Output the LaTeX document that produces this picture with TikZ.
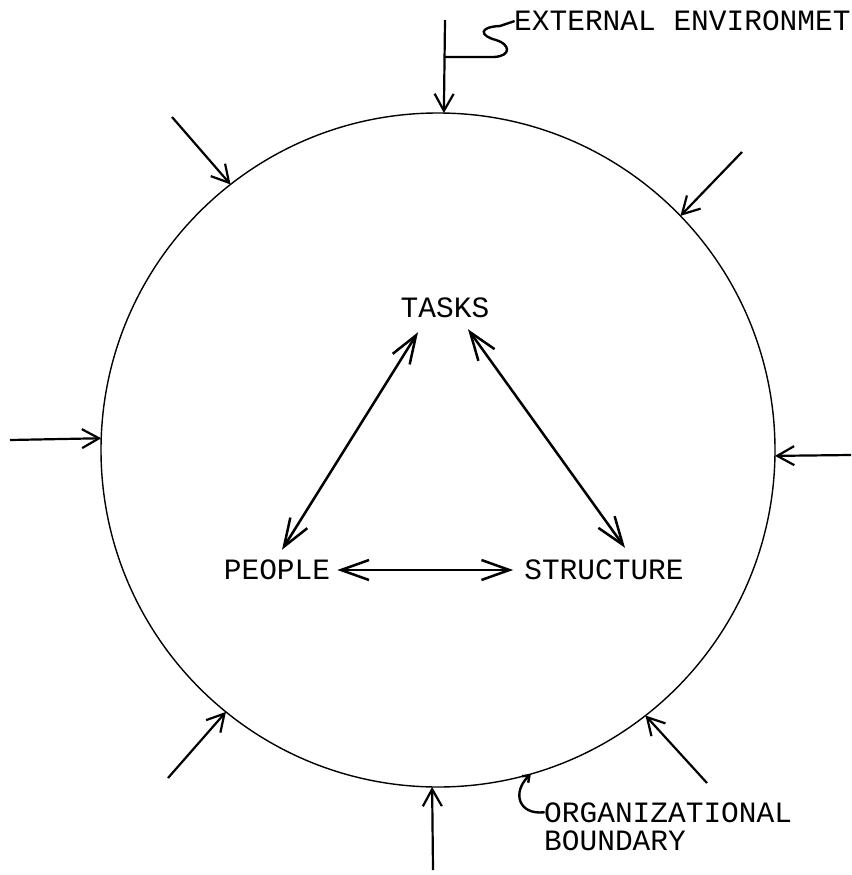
\documentclass[tikz,border=0pt]{standalone}
\usepackage{fontspec}
\setmonofont{Liberation Mono}
\usetikzlibrary{arrows.meta,positioning}

\begin{document}
\begin{tikzpicture}[
    x=1pt, y=-1pt,
    word/.style={font=\ttfamily\fontsize{29.5}{28}\selectfont, inner sep=0pt},
    boundary/.style={draw, circle, minimum size=674pt, inner sep=0pt, outer sep=0pt, line width=1.4pt},
    force/.style={-{Straight Barb[length=17pt, width=19pt]}, line width=2.2pt},
    mutual/.style={{Straight Barb[length=28pt, width=20pt]}-{Straight Barb[length=28pt, width=20pt]}, line width=2.5pt},
    hook/.style={line width=2.4pt, line cap=round}
]
\useasboundingbox (0,0) rectangle (851,875);
\node[boundary] (org) at (438,450) {};
\node[word] (tasks) at (445,308) {TASKS};
\node[word] (people) at (277,570) {PEOPLE};
\node[word] (structure) at (604,570) {STRUCTURE};
\node[word, anchor=base west] (env) at (514,31) {EXTERNAL ENVIRONMET};
\node[word, anchor=base west] (orgname) at (544,822) {ORGANIZATIONAL};
\node[word, anchor=base west] (orgbound) at (544,850) {BOUNDARY};
% forces from the environment
\coordinate (fN) at (445,20);
\coordinate (fNW) at (172,117);
\coordinate (fNE) at (742,152);
\coordinate (fW) at (10,440);
\coordinate (fE) at (851,455);
\coordinate (fSW) at (168,778);
\coordinate (fSE) at (707,783);
\coordinate (fS) at (433,870);
\draw[force] (fN) -- (org.89);
\draw[force] (fNW) -- (org.128);
\draw[force] (fNE) -- (org.44);
\draw[force] (fW) -- (org.178);
\draw[force] (fE) -- (org.359);
\draw[force] (fSW) -- (org.231);
\draw[force] (fSE) -- (org.308);
\draw[force] (fS) -- (org.269);
% the triangle
\draw[mutual] ([xshift=-27pt,yshift=-14pt]tasks.south) -- ([xshift=5pt,yshift=10pt]people.north);
\draw[mutual] ([xshift=23pt,yshift=-11pt]tasks.south) -- ([xshift=21pt,yshift=12pt]structure.north);
\draw[mutual] ([xshift=7pt]people.east) -- ([xshift=-11pt]structure.west);
% label hooks
\coordinate (envjoin) at (445,57);
\draw[hook] (envjoin) -- (494,57) .. controls (512,56) and (510,44) .. (496,40)
    .. controls (480,36) and (478,27) .. (500,26) -- (env.west);
\draw[hook, -{Straight Barb[length=6pt, width=9pt]}] (orgname.west) .. controls (518,815) and (512,792) .. (org.286);
\end{tikzpicture}
\end{document}
